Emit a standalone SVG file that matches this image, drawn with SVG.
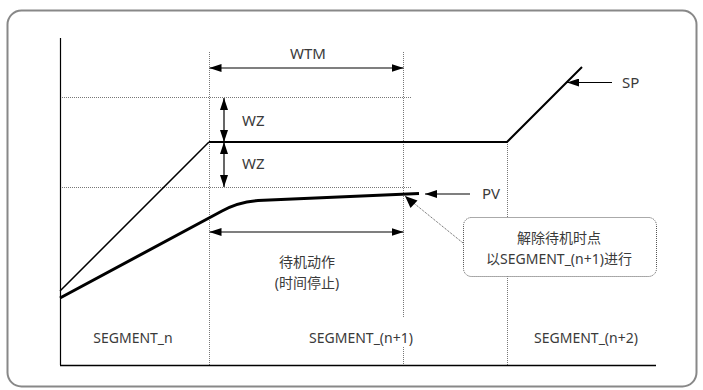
<svg xmlns="http://www.w3.org/2000/svg" width="703" height="390" viewBox="0 0 703 390">
<defs>
<marker id="ah" viewBox="0 0 12 8" refX="12" refY="4" markerWidth="12" markerHeight="8" markerUnits="userSpaceOnUse" orient="auto-start-reverse">
<path d="M0,0 L12,4 L0,8 Z" fill="#000"/>
</marker>
</defs>
<style>
text{font-family:"Noto Sans","Noto Sans CJK SC",sans-serif;font-size:14px;fill:#3a3a3a}
.big{font-size:15px}
.dot{stroke:#777;stroke-width:1;stroke-dasharray:1 1;fill:none}
.ln{stroke:#000;fill:none}
.arr{stroke:#000;stroke-width:1.2;fill:none}
</style>
<rect x="7.5" y="10.5" width="689" height="376" rx="14" fill="#fff" stroke="#888" stroke-width="2"/>
<g id="grid">
<line class="dot" x1="60" y1="97.5" x2="411" y2="97.5"/>
<line class="dot" x1="60" y1="187.5" x2="411" y2="187.5"/>
<line class="dot" x1="209.5" y1="52" x2="209.5" y2="365"/>
<line class="dot" x1="403.5" y1="52" x2="403.5" y2="318"/>
<line class="dot" x1="403.5" y1="347" x2="403.5" y2="365"/>
<line class="dot" x1="507.5" y1="142" x2="507.5" y2="365"/>
</g>
<g id="axes">
<line class="ln" x1="60.5" y1="38" x2="60.5" y2="365" stroke-width="1.2"/>
<line class="ln" x1="60" y1="365.5" x2="656" y2="365.5" stroke-width="1.5"/>
</g>
<g id="SP">
<path class="ln" d="M60,291 L209,142" stroke-width="1.5"/>
<path class="ln" d="M209,142 L507,142 L582,67" stroke-width="2"/>
</g>
<g id="PV">
<path class="ln" d="M60,298 L222,211 Q238,202 258,200.5 L419,193.5" stroke-width="3"/>
</g>
<g id="connectors">
<line class="arr" x1="209.5" y1="68" x2="403.5" y2="68" marker-start="url(#ah)" marker-end="url(#ah)"/>
<line class="arr" x1="224" y1="98" x2="224" y2="142" marker-start="url(#ah)" marker-end="url(#ah)"/>
<line class="arr" x1="224" y1="142" x2="224" y2="187" marker-start="url(#ah)" marker-end="url(#ah)"/>
<line class="arr" x1="209.5" y1="232" x2="403.5" y2="232" marker-start="url(#ah)" marker-end="url(#ah)"/>
<line class="arr" x1="470" y1="194" x2="425" y2="194" marker-end="url(#ah)"/>
<line class="arr" x1="612" y1="82.5" x2="567" y2="82.5" marker-end="url(#ah)"/>
<line x1="463" y1="243" x2="405" y2="196" stroke="#555" stroke-width="1" stroke-dasharray="1 1"/>
<path d="M405,196 L417.5,200.5 L410.5,208 Z" fill="#000"/>
</g>
<g id="labels">
<text class="big" x="308" y="59" text-anchor="middle">WTM</text>
<text class="big" x="242" y="126">WZ</text>
<text class="big" x="242" y="169">WZ</text>
<text class="big" x="482" y="199">PV</text>
<text class="big" x="622" y="88">SP</text>
<text x="307" y="267" text-anchor="middle">待机动作</text>
<text x="307" y="288" text-anchor="middle">(时间停止)</text>
<text x="133" y="343" text-anchor="middle">SEGMENT_n</text>
<text x="361" y="343" text-anchor="middle">SEGMENT_(n+1)</text>
<text x="586" y="343" text-anchor="middle">SEGMENT_(n+2)</text>
</g>
<g id="callout">
<rect x="463.5" y="217.5" width="193" height="59" rx="8" fill="#fff" stroke="#555" stroke-width="1" stroke-dasharray="1 1"/>
<text x="559" y="243" text-anchor="middle">解除待机时点</text>
<text x="559" y="264" text-anchor="middle">以SEGMENT_(n+1)进行</text>
</g>
</svg>
